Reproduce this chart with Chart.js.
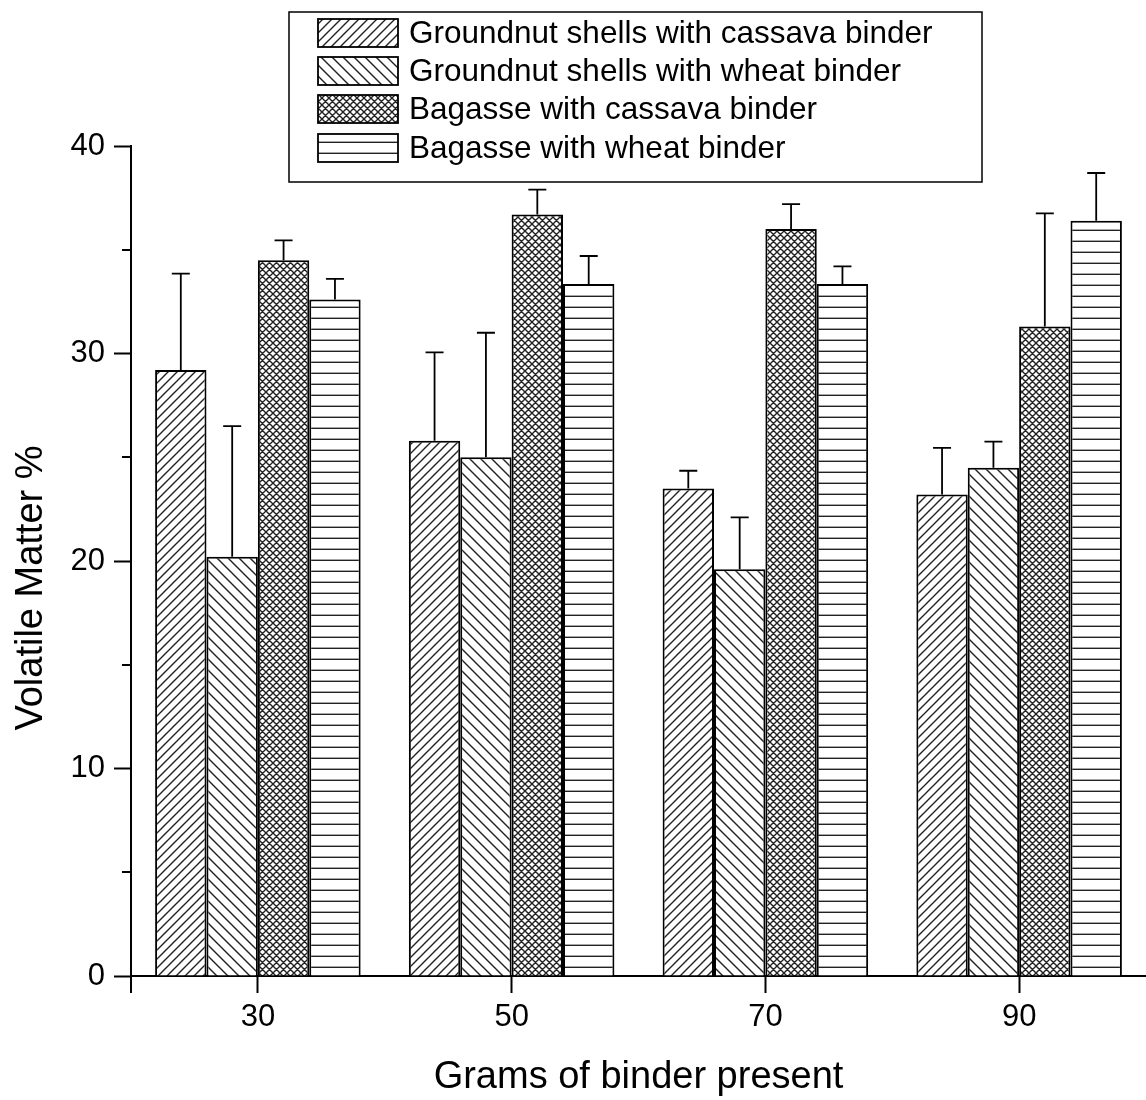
<!DOCTYPE html>
<html>
  <head>
    <meta charset="utf-8"/>
    <style>
      html, body { margin: 0; padding: 0; background: #fff; }
      #holder { width: 1146px; height: 1100px; position: relative; }
    </style>
  </head>
  <body>
    <div id="holder">
        <canvas id="chart-area"></canvas>
    </div>

    <script src="https://cdn.jsdelivr.net/npm/chart.js@4.4.1/dist/chart.umd.min.js"></script>
    <script>

        // data
        var grams = ['30', '50', '70', '90'];
        var seriesNames = [
            'Groundnut shells with cassava binder',
            'Groundnut shells with wheat binder',
            'Bagasse with cassava binder',
            'Bagasse with wheat binder'
        ];
        var gsCassava = [29.2, 25.8, 23.5, 23.2];
        var gsWheat = [20.2, 25.0, 19.6, 24.5];
        var bgCassava = [34.5, 36.7, 36.0, 31.3];
        var bgWheat = [32.6, 33.35, 33.35, 36.4];

        // upper error bar lengths
        var gsCassavaErr = [4.65, 4.25, 0.85, 2.25];
        var gsWheatErr = [6.3, 6.0, 2.5, 1.25];
        var bgCassavaErr = [0.95, 1.2, 1.2, 5.45];
        var bgWheatErr = [1.0, 1.35, 0.85, 2.3];

        var yTicks = [0, 10, 20, 30, 40];
        var yTitle = 'Volatile Matter %';
        var xTitle = 'Grams of binder present';

        var font = "'Liberation Sans', Arial, sans-serif";

        // hatch fills
        var makePattern = function(kind) {
            var c = document.createElement('canvas');
            var s;
            if (kind == 'fwd') s = 9;
            else if (kind == 'back') s = 11;
            else if (kind == 'cross') s = 7;
            else s = 11;
            c.width = s; c.height = s;
            var g = c.getContext('2d');
            g.fillStyle = '#fff';
            g.fillRect(0, 0, s, s);
            g.strokeStyle = '#222';
            g.lineWidth = 1.4;
            g.beginPath();
            if (kind == 'fwd' || kind == 'cross') {
                g.moveTo(-1, s + 1); g.lineTo(s + 1, -1);
                g.moveTo(-1, 1); g.lineTo(1, -1);
                g.moveTo(s - 1, s + 1); g.lineTo(s + 1, s - 1);
            }
            if (kind == 'back' || kind == 'cross') {
                g.moveTo(-1, -1); g.lineTo(s + 1, s + 1);
                g.moveTo(s - 1, -1); g.lineTo(s + 1, 1);
                g.moveTo(-1, s - 1); g.lineTo(1, s + 1);
            }
            if (kind == 'horiz') {
                g.lineWidth = 1.8;
                g.moveTo(0, s - 0.5); g.lineTo(s, s - 0.5);
            }
            g.stroke();
            return g.createPattern(c, 'repeat');
        };

        var ctx = document.getElementById('chart-area').getContext('2d');
        var fills = [makePattern('fwd'), makePattern('back'), makePattern('cross'), makePattern('horiz')];
        var values = [gsCassava, gsWheat, bgCassava, bgWheat];
        var errors = [gsCassavaErr, gsWheatErr, bgCassavaErr, bgWheatErr];

        var datasets = [];
        for (var i = 0; i < seriesNames.length; i++) {
            datasets.push({
                label: seriesNames[i],
                data: values[i],
                errUp: errors[i],
                backgroundColor: fills[i],
                borderColor: '#000',
                borderWidth: 2,
                categoryPercentage: 0.81,
                barPercentage: 1.0
            });
        }

        // error bars, minor ticks, y title, legend box
        var extras = {
            id: 'extras',
            afterDatasetsDraw: function(chart) {
                var c = chart.ctx;
                var y = chart.scales.y;
                c.save();
                c.strokeStyle = '#000';
                c.lineWidth = 1.8;
                chart.data.datasets.forEach(function(ds, di) {
                    var meta = chart.getDatasetMeta(di);
                    meta.data.forEach(function(bar, j) {
                        var top = y.getPixelForValue(ds.data[j] + ds.errUp[j]);
                        c.beginPath();
                        c.moveTo(bar.x, bar.y);
                        c.lineTo(bar.x, top);
                        c.moveTo(bar.x - 9, top);
                        c.lineTo(bar.x + 9, top);
                        c.stroke();
                    });
                });
                c.restore();
            },
            afterDraw: function(chart) {
                var c = chart.ctx;
                var y = chart.scales.y;
                var area = chart.chartArea;
                c.save();
                c.strokeStyle = '#000';
                c.lineWidth = 2;
                // minor ticks
                for (var v = 5; v < 40; v += 10) {
                    var py = Math.round(y.getPixelForValue(v));
                    c.beginPath();
                    c.moveTo(area.left - 9, py);
                    c.lineTo(area.left, py);
                    c.stroke();
                }
                // tick at left end of x axis
                c.beginPath();
                c.moveTo(area.left, area.bottom);
                c.lineTo(area.left, area.bottom + 17);
                c.stroke();

                // y title, sits a bit below the middle of the axis
                c.fillStyle = '#000';
                c.font = '38px ' + font;
                c.textAlign = 'center';
                c.textBaseline = 'alphabetic';
                c.save();
                c.translate(42, 588);
                c.rotate(-Math.PI / 2);
                c.fillText(yTitle, 0, 0);
                c.restore();

                // legend
                c.lineWidth = 1.5;
                c.fillStyle = '#fff';
                c.fillRect(289, 12, 693, 170);
                c.strokeRect(289, 12, 693, 170);
                c.font = '31.5px ' + font;
                c.textAlign = 'left';
                c.textBaseline = 'middle';
                var rows = [33, 71, 109, 148];
                chart.data.datasets.forEach(function(ds, di) {
                    var ry = rows[di];
                    c.fillStyle = ds.backgroundColor;
                    c.fillRect(318, ry - 14, 80, 28);
                    c.lineWidth = 1.8;
                    c.strokeRect(318, ry - 14, 80, 28);
                    c.fillStyle = '#000';
                    c.fillText(ds.label, 409, ry + 1);
                });
                c.restore();
            }
        };

        var chart = new Chart(ctx, {
            type: 'bar',
            data: {
                labels: grams,
                datasets: datasets
            },
            plugins: [extras],
            options: {
                responsive: true,
                maintainAspectRatio: false,
                animation: false,
                layout: { padding: { top: 146, right: 0, left: 0, bottom: 0 } },
                plugins: {
                    legend: { display: false },
                    tooltip: { enabled: false }
                },
                scales: {
                    x: {
                        afterFit: function(scale) { scale.height = 124; },
                        grid: {
                            offset: false,
                            drawOnChartArea: false,
                            drawTicks: true,
                            tickLength: 17,
                            tickWidth: 2,
                            tickColor: '#000'
                        },
                        border: { display: true, color: '#000', width: 2 },
                        ticks: {
                            color: '#000',
                            padding: 6,
                            font: { family: font, size: 31 }
                        },
                        title: {
                            display: true,
                            text: xTitle,
                            color: '#000',
                            padding: { top: 0, bottom: 0 },
                            font: { family: font, size: 38 }
                        }
                    },
                    y: {
                        min: 0,
                        max: 40,
                        afterFit: function(scale) { scale.width = 131; },
                        afterBuildTicks: function(scale) {
                            scale.ticks = yTicks.map(function(v) { return { value: v }; });
                        },
                        grid: {
                            drawOnChartArea: false,
                            drawTicks: true,
                            tickLength: 17,
                            tickWidth: 2,
                            tickColor: '#000'
                        },
                        border: { display: true, color: '#000', width: 2 },
                        ticks: {
                            color: '#000',
                            padding: 9,
                            font: { family: font, size: 31 }
                        },
                        title: { display: false }
                    }
                }
            }
        });
    </script>
    </body>
</html>
